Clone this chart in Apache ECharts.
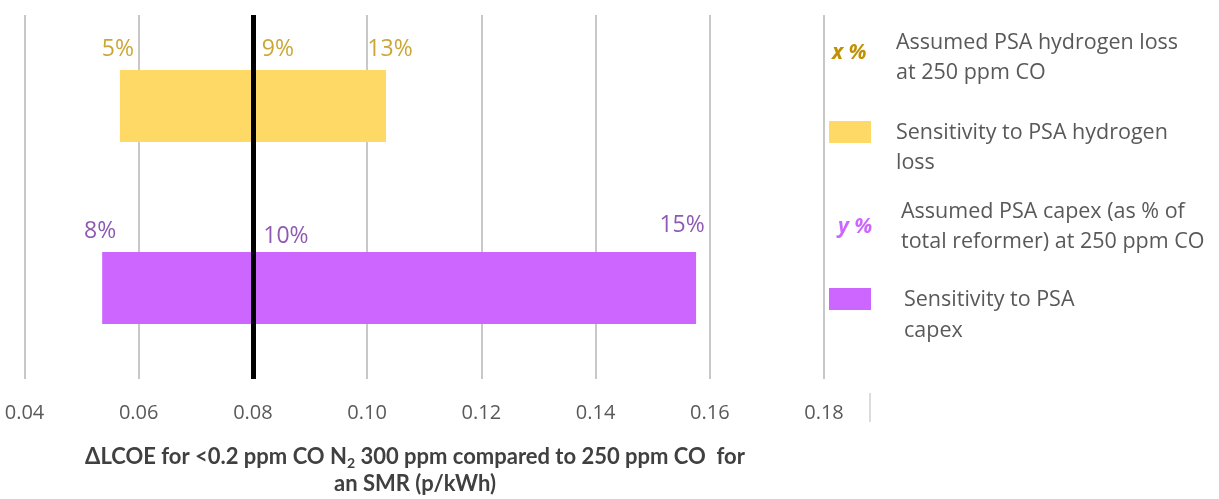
<!DOCTYPE html>
<html>
<head>
<meta charset="utf-8">
<script src="https://cdn.jsdelivr.net/npm/echarts@6/dist/echarts.min.js"></script>
<style>
html,body{margin:0;padding:0;background:#fff;}
#chart{width:1219px;height:499px;}
</style>
</head>
<body>
<div id="chart"></div>
<script>
// ---- data ----
var categories = ['Sensitivity to PSA hydrogen loss', 'Sensitivity to PSA capex'];
var lowValues = [0.0567, 0.0536];
var highValues = [0.1033, 0.1576];
var baselineValue = 0.08;
var lowLabels = ['5%', '8%'];
var baseLabels = ['9%', '10%'];
var highLabels = ['13%', '15%'];
var xTicks = [0.04, 0.06, 0.08, 0.10, 0.12, 0.14, 0.16, 0.18];

// ---- styles ----
var barColors = ['#FFD966', '#CC66FF'];
var labelColors = ['#BF9000', '#7030A0'];
var FONT = '"Open Sans", Lato, sans-serif';
var TITLE_FONT = 'Lato, "Open Sans", sans-serif';
var labelOffsets = {
  low:  [[-2, -57], [-2, -57]],
  base: [[25, -57], [33, -52]],
  high: [[4, -57], [-14, -63]]
};

function labelSeries(key, values, texts) {
  return {
    type: 'scatter',
    symbolSize: 0,
    silent: true,
    z: 5,
    data: values.map(function (v, i) {
      return {
        value: [v, i],
        label: {
          show: true,
          position: [0, 0],
          align: 'center',
          verticalAlign: 'middle',
          offset: labelOffsets[key][i],
          formatter: texts[i],
          color: labelColors[i],
          fontSize: 23,
          fontFamily: FONT
        }
      };
    })
  };
}

var chart = echarts.init(document.getElementById('chart'), null, {renderer: 'canvas'});

var legendText = { fill: '#595959', fontSize: 21.5, fontFamily: FONT };
function txt(x, y, s, extra) {
  var st = Object.assign({ text: s, x: x, y: y, verticalAlign: 'middle' }, legendText, extra || {});
  return { type: 'text', style: st, z: 10 };
}

var option = {
  animation: false,
  backgroundColor: '#ffffff',
  grid: { left: 24.5, right: 395, top: 15, bottom: 120, containLabel: false },
  xAxis: {
    type: 'value',
    min: 0.04, max: 0.18, interval: 0.02,
    axisLine: { show: false },
    axisTick: { show: false },
    splitLine: { show: true, lineStyle: { color: '#C8C8C8', width: 2 } },
    axisLabel: {
      margin: 24,
      color: '#595959',
      fontSize: 20,
      fontFamily: FONT,
      formatter: function (v) { return v.toFixed(2); }
    }
  },
  yAxis: {
    type: 'category',
    inverse: true,
    data: categories,
    axisLine: { show: false },
    axisTick: { show: false },
    axisLabel: { show: false },
    splitLine: { show: false }
  },
  series: [
    {
      type: 'bar', stack: 'range', barWidth: 72, silent: true,
      itemStyle: { color: 'transparent' },
      data: lowValues
    },
    {
      type: 'bar', stack: 'range', barWidth: 72, silent: true,
      data: highValues.map(function (h, i) {
        return { value: h - lowValues[i], itemStyle: { color: barColors[i] } };
      }),
      markLine: {
        silent: true,
        symbol: 'none',
        label: { show: false },
        lineStyle: { color: '#000000', width: 5, type: 'solid' },
        data: [{ xAxis: baselineValue }]
      }
    },
    labelSeries('low', lowValues, lowLabels),
    labelSeries('base', lowValues.map(function () { return baselineValue; }), baseLabels),
    labelSeries('high', highValues, highLabels)
  ],
  graphic: [
    // legend
    txt(832, 53, 'x %', { fill: '#BF9000', fontWeight: 'bold', fontStyle: 'italic', fontSize: 21 }),
    txt(896, 43, 'Assumed PSA hydrogen loss'),
    txt(896, 73, 'at 250 ppm CO'),
    { type: 'rect', shape: { x: 829, y: 121, width: 42, height: 22 }, style: { fill: barColors[0] } },
    txt(896, 133, 'Sensitivity to PSA hydrogen'),
    txt(896, 163, 'loss'),
    txt(838, 227, 'y %', { fill: '#CC66FF', fontWeight: 'bold', fontStyle: 'italic', fontSize: 21 }),
    txt(901, 212, 'Assumed PSA capex (as % of'),
    txt(901, 242, 'total reformer) at 250 ppm CO'),
    { type: 'rect', shape: { x: 829, y: 288, width: 42, height: 22 }, style: { fill: barColors[1] } },
    txt(904, 300, 'Sensitivity to PSA'),
    txt(904, 331, 'capex'),
    // small stray separator
    { type: 'line', shape: { x1: 870, y1: 393, x2: 870, y2: 422 }, style: { stroke: '#D0D0D0', lineWidth: 1.5 } },
    // axis title
    {
      type: 'text', z: 10,
      style: {
        x: 415, y: 457, align: 'center', verticalAlign: 'middle',
        text: '{t|ΔLCOE for <0.2 ppm CO N}{s|2}{t| 300 ppm compared to 250 ppm CO  for}',
        rich: {
          t: { fontSize: 22, fontWeight: 'bold', fill: '#404040', fontFamily: TITLE_FONT },
          s: { fontSize: 14, fontWeight: 'bold', fill: '#404040', fontFamily: TITLE_FONT, padding: [13, 0, 0, 0] }
        }
      }
    },
    {
      type: 'text', z: 10,
      style: {
        x: 415, y: 484, align: 'center', verticalAlign: 'middle',
        text: 'an SMR (p/kWh)',
        fontSize: 22, fontWeight: 'bold', fill: '#404040', fontFamily: TITLE_FONT
      }
    }
  ]
};
chart.setOption(option);
</script>
</body>
</html>
